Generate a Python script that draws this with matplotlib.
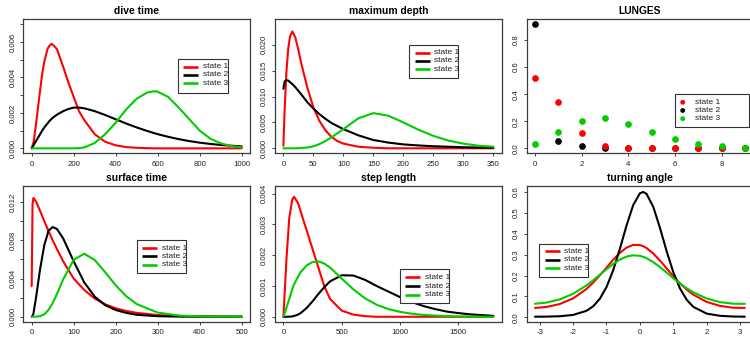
import matplotlib
matplotlib.use("Agg")
import matplotlib.pyplot as plt
from matplotlib import font_manager
from matplotlib.lines import Line2D
from matplotlib.patches import Rectangle, Circle
import matplotlib.transforms as mtransforms

# ---- data ---------------------------------------------------------------
dive_x = [0, 10, 25, 35, 50, 60, 75, 85, 95, 105, 120, 150, 175, 200, 225,
          250, 300, 350, 400, 450, 500, 550, 580, 600, 650, 700, 750, 800,
          850, 900, 950, 1000]
dive_s1 = [0, 0.0004, 0.0018, 0.0028, 0.0042, 0.0049, 0.0056, 0.0058, 0.0059,
           0.0058, 0.0056, 0.0046, 0.0037, 0.0029, 0.0021, 0.0016, 0.0008,
           0.00037, 0.00017, 0.00007, 0.00003, 0.00001, 0, 0, 0, 0, 0, 0, 0,
           0, 0, 0]
dive_s2 = [0, 0.0002, 0.0005, 0.0007, 0.001, 0.00118, 0.0014, 0.00155,
           0.00167, 0.00177, 0.0019, 0.0021, 0.00222, 0.0023, 0.0023, 0.00226,
           0.0021, 0.00188, 0.00164, 0.0014, 0.00118, 0.00098, 0.00087, 0.0008,
           0.00065, 0.00052, 0.00041, 0.00032, 0.00025, 0.00019, 0.00015,
           0.00011]
dive_s3 = [0, 0, 0, 0, 0, 0, 0, 0, 0, 0, 0, 0, 0, 0, 0.00001, 0.00005,
           0.0003, 0.0008, 0.00145, 0.0022, 0.0028, 0.00315, 0.00322, 0.0032,
           0.0029, 0.0023, 0.00165, 0.001, 0.00055, 0.00028, 0.00013, 0.00006]

depth_x = [0, 2, 5, 8, 11, 15, 20, 25, 30, 40, 50, 60, 70, 80, 90, 100, 125,
           150, 175, 200, 225, 250, 275, 300, 325, 350]
depth_s1 = [0.0005, 0.0072, 0.0147, 0.0192, 0.0216, 0.0226, 0.0214, 0.019,
            0.0163, 0.0117, 0.0079, 0.0053, 0.0035, 0.0022, 0.0014, 0.0009,
            0.0003, 0.0001, 0, 0, 0, 0, 0, 0, 0, 0]
depth_s2 = [0.0115, 0.0129, 0.0132, 0.0131, 0.0128, 0.0124, 0.0118, 0.0111,
            0.0104, 0.0089, 0.0077, 0.0066, 0.0057, 0.0049, 0.0043, 0.0037,
            0.0025, 0.0016, 0.0011, 0.00075, 0.00055, 0.0004, 0.0003, 0.0002,
            0.00015, 0.0001]
depth_s3 = [0, 0, 0, 0, 0, 0, 0.00001, 0.00002, 0.00005, 0.00015, 0.00038,
            0.0008, 0.0014, 0.0021, 0.0029, 0.0037, 0.0058, 0.0068, 0.0063,
            0.005, 0.0036, 0.0024, 0.0015, 0.0009, 0.0005, 0.0003]

lunge_x = [0, 1, 2, 3, 4, 5, 6, 7, 8, 9]
lunge_s1 = [0.522, 0.342, 0.111, 0.020, 0.005, 0.001, 0, 0, 0, 0]
lunge_s2 = [0.919, 0.054, 0.017, 0.005, 0.001, 0, 0, 0, 0, 0]
lunge_s3 = [0.034, 0.121, 0.200, 0.222, 0.182, 0.121, 0.066, 0.032, 0.015, 0.005]

surf_x = [0, 2, 4, 10, 20, 30, 40, 50, 60, 75, 100, 125, 150, 175, 200, 225,
          250, 300, 350, 400, 450, 500]
surf_s1 = [0.0032, 0.0118, 0.01245, 0.0121, 0.0111, 0.01, 0.009, 0.008,
           0.0071, 0.0058, 0.004, 0.0028, 0.0019, 0.0013, 0.00088, 0.0006,
           0.0004, 0.00017, 0.00007, 0.00003, 0.00001, 0]
surf_s2 = [0, 0.0001, 0.0003, 0.0019, 0.005, 0.0075, 0.009, 0.0094, 0.0092,
           0.0082, 0.0058, 0.0036, 0.0021, 0.0012, 0.0007, 0.0004, 0.0002,
           0.00005, 0.00001, 0, 0, 0]
surf_s3 = [0, 0, 0, 0.000001, 0.00005, 0.00025, 0.00071, 0.00143, 0.00237,
           0.00392, 0.00597, 0.0066, 0.00594, 0.00466, 0.00329, 0.00215,
           0.00132, 0.00043, 0.00012, 0.00003, 0.00001, 0]

step_x = [0, 10, 25, 50, 75, 91, 125, 150, 200, 250, 300, 350, 400, 500, 600,
          700, 800, 900, 1000, 1100, 1200, 1300, 1400, 1500, 1600, 1800]
step_s1 = [0, 0.0007, 0.0018, 0.0032, 0.0038, 0.0039, 0.0037, 0.0034, 0.0028,
           0.0022, 0.0016, 0.001, 0.00058, 0.0002, 0.00007, 0.00002, 0, 0, 0,
           0, 0, 0, 0, 0, 0, 0]
step_s2 = [0, 0, 0, 0.000003, 0.000012, 0.000024, 0.00007, 0.000125, 0.00029,
           0.0005, 0.00074, 0.00096, 0.00115, 0.00135, 0.00134, 0.0012, 0.001,
           0.00082, 0.00064, 0.00048, 0.00035, 0.00025, 0.00017, 0.00012,
           0.00008, 0.00003]
step_s3 = [0, 0.0001, 0.00028, 0.00058, 0.00088, 0.00105, 0.0013, 0.00146,
           0.00167, 0.00178, 0.0018, 0.00173, 0.0016, 0.00124, 0.00089,
           0.0006, 0.00039, 0.00025, 0.00016, 0.0001, 0.00006, 0.00004,
           0.00002, 0.00001, 0.000005, 0]

angle_x = [-3.14, -2.8, -2.4, -2.0, -1.6, -1.4, -1.2, -1.0, -0.8, -0.6, -0.4,
           -0.2, 0.0, 0.1, 0.2, 0.4, 0.6, 0.8, 1.0, 1.2, 1.4, 1.6, 2.0, 2.4,
           2.8, 3.14]
angle_s1 = [0.045, 0.0495, 0.0634, 0.0904, 0.1355, 0.1658, 0.2005, 0.2379,
            0.2752, 0.3084, 0.3334, 0.3465, 0.3458, 0.3402, 0.3314, 0.3054,
            0.2716, 0.2341, 0.1969, 0.1625, 0.1328, 0.1082, 0.0736, 0.0545,
            0.0458, 0.045]
angle_s2 = [0.003, 0.0033, 0.0051, 0.0114, 0.031, 0.0525, 0.0884, 0.1444,
            0.2247, 0.3272, 0.4392, 0.5371, 0.5936, 0.6, 0.5905, 0.5288,
            0.4282, 0.3163, 0.2156, 0.1378, 0.084, 0.0498, 0.0176, 0.0071,
            0.0038, 0.003]
angle_s3 = [0.0647, 0.0704, 0.0857, 0.1125, 0.1524, 0.1769, 0.2034, 0.2301,
            0.2552, 0.2761, 0.2905, 0.2968, 0.2941, 0.2895, 0.2827, 0.2642,
            0.2405, 0.2141, 0.1873, 0.1619, 0.1391, 0.1194, 0.09, 0.0727,
            0.0649, 0.0647]

state_labels = ["state 1", "state 2", "state 3"]
state_colors = ["#ff0000", "#000000", "#00cd00"]


def pick_font(names):
    for name in names:
        try:
            font_manager.findfont(name, fallback_to_default=False)
            return name
        except ValueError:
            pass
    return "DejaVu Sans"


narrow = pick_font(["Liberation Sans Narrow", "Liberation Sans"])
regular = pick_font(["Liberation Sans", "Arial"])

W, H = 750, 338
fig = plt.figure(figsize=(W / 100, H / 100), dpi=100)
# pixel coordinates, y measured from the top of the image
px = mtransforms.Affine2D().scale(1 / W, -1 / H).translate(0, 1) + fig.transFigure
box_color = "#3c3c3c"


def panel(x0, y0, x1, y1, title, xlim, ylim, xticks, xlabels, yticks, ylabels):
    ax = fig.add_axes([x0 / W, (H - y1) / H, (x1 - x0) / W, (y1 - y0) / H])
    ax.set_xlim(*xlim)
    ax.set_ylim(*ylim)
    for s in ax.spines.values():
        s.set_color(box_color)
        s.set_linewidth(0.9)
    ax.set_xticks(xticks)
    ax.set_xticklabels(xlabels, fontsize=5.6, family=narrow, color="#222222")
    ax.set_yticks(yticks)
    ax.set_yticklabels(ylabels, fontsize=5.6, family=regular, color="#222222",
                       rotation=90, va="center", ha="right")
    ax.tick_params(axis="both", length=2.4, width=0.7, color=box_color)
    ax.tick_params(axis="x", pad=3.2)
    ax.tick_params(axis="y", pad=2.6)
    fig.text((x0 + x1) / 2, y0 - 8.5, title, transform=px, ha="center",
             va="center", fontsize=7.4, fontweight="bold", family=narrow)
    return ax


def legend(x0, y0, x1, y1, rows, line_x, text_x, markers=False):
    fig.add_artist(Rectangle((x0, y0), x1 - x0, y1 - y0, transform=px,
                             facecolor="white", edgecolor="#333333", lw=0.8,
                             zorder=5))
    for yy, lab, col in zip(rows, state_labels, state_colors):
        if markers:
            fig.add_artist(Circle((line_x[0], yy), 2.4, transform=px,
                                  facecolor=col, edgecolor="none", zorder=6))
        else:
            fig.add_artist(Line2D(line_x, [yy, yy], transform=px, color=col,
                                  lw=1.9, solid_capstyle="butt", zorder=6))
        fig.text(text_x, yy, lab, transform=px, ha="left", va="center",
                 fontsize=6.0, family=narrow, color="#222222", zorder=6)


def curves(ax, x, series):
    for ys, col in zip(series, state_colors):
        ax.plot(x, ys, color=col, lw=1.5, solid_capstyle="round")


def fmt(vals, nd, keep=None):
    out = []
    for i, v in enumerate(vals):
        if keep is not None and i % keep:
            out.append("")
        else:
            out.append(f"{v:.{nd}f}")
    return out


# dive time
t1 = [0, 0.001, 0.002, 0.003, 0.004, 0.005, 0.006, 0.007]
ax1 = panel(23.3, 19, 250.1, 153.3, "dive time", (-40, 1040), (-0.00028, 0.0073),
            [0, 200, 400, 600, 800, 1000], ["0", "200", "400", "600", "800", "1000"],
            t1, fmt(t1, 3, keep=2))
curves(ax1, dive_x, [dive_s1, dive_s2, dive_s3])
legend(178.3, 59.3, 228.3, 93.3, [66.7, 75.0, 83.3], [183.3, 198.3], 203.3)

# maximum depth
t2 = [0, 0.005, 0.01, 0.015, 0.02]
ax2 = panel(275, 19, 501.7, 153.3, "maximum depth", (-14, 364), (-0.00097, 0.025),
            [0, 50, 100, 150, 200, 250, 300, 350],
            ["0", "50", "100", "150", "200", "250", "300", "350"], t2, fmt(t2, 3))
curves(ax2, depth_x, [depth_s1, depth_s2, depth_s3])
legend(409.3, 45, 458.3, 77.7, [52.7, 61.0, 69.3], [414.5, 429.5], 434.3)

# LUNGES
t3 = [0, 0.2, 0.4, 0.6, 0.8]
ax3 = panel(526.5, 19, 753.3, 153.3, "LUNGES", (-0.36, 9.36), (-0.037, 0.956),
            [0, 2, 4, 6, 8], ["0", "2", "4", "6", "8"], t3, fmt(t3, 1))
for ys, col in zip([lunge_s2, lunge_s1, lunge_s3],
                   [state_colors[1], state_colors[0], state_colors[2]]):
    ax3.plot(lunge_x, ys, "o", color=col, ms=3.8, lw=0)
legend(675, 94.3, 748.5, 126.7, [102.3, 110.5, 118.7], [682.7], 695, markers=True)

# surface time
t4 = [0, 0.002, 0.004, 0.006, 0.008, 0.01, 0.012]
ax4 = panel(23.3, 186.3, 250.1, 321.7, "surface time", (-20, 520),
            (-0.000526, 0.01367), [0, 100, 200, 300, 400, 500],
            ["0", "100", "200", "300", "400", "500"], t4, fmt(t4, 3, keep=2))
curves(ax4, surf_x, [surf_s1, surf_s2, surf_s3])
legend(136.7, 240, 185.7, 273.3, [248, 256.3, 264.7], [142, 157], 161.7)

# step length
t5 = [0, 0.001, 0.002, 0.003, 0.004]
ax5 = panel(275, 186.3, 501.7, 321.7, "step length", (-72, 1872), (-0.00016, 0.00424),
            [0, 500, 1000, 1500], ["0", "500", "1000", "1500"], t5, fmt(t5, 3))
curves(ax5, step_x, [step_s1, step_s2, step_s3])
legend(400, 269, 449, 303.3, [277.3, 286.3, 294.7], [405.3, 420.3], 425)

# turning angle
t6 = [0, 0.1, 0.2, 0.3, 0.4, 0.5, 0.6]
ax6 = panel(526.5, 186.3, 753.3, 321.7, "turning angle", (-3.393, 3.393), (-0.021, 0.627),
            [-3, -2, -1, 0, 1, 2, 3], ["-3", "-2", "-1", "0", "1", "2", "3"],
            t6, fmt(t6, 1))
curves(ax6, angle_x, [angle_s1, angle_s2, angle_s3])
legend(539.3, 244, 588.3, 277.3, [251.3, 259.7, 268.3], [545, 560], 564.3)

fig.savefig("out.png", dpi=100)
